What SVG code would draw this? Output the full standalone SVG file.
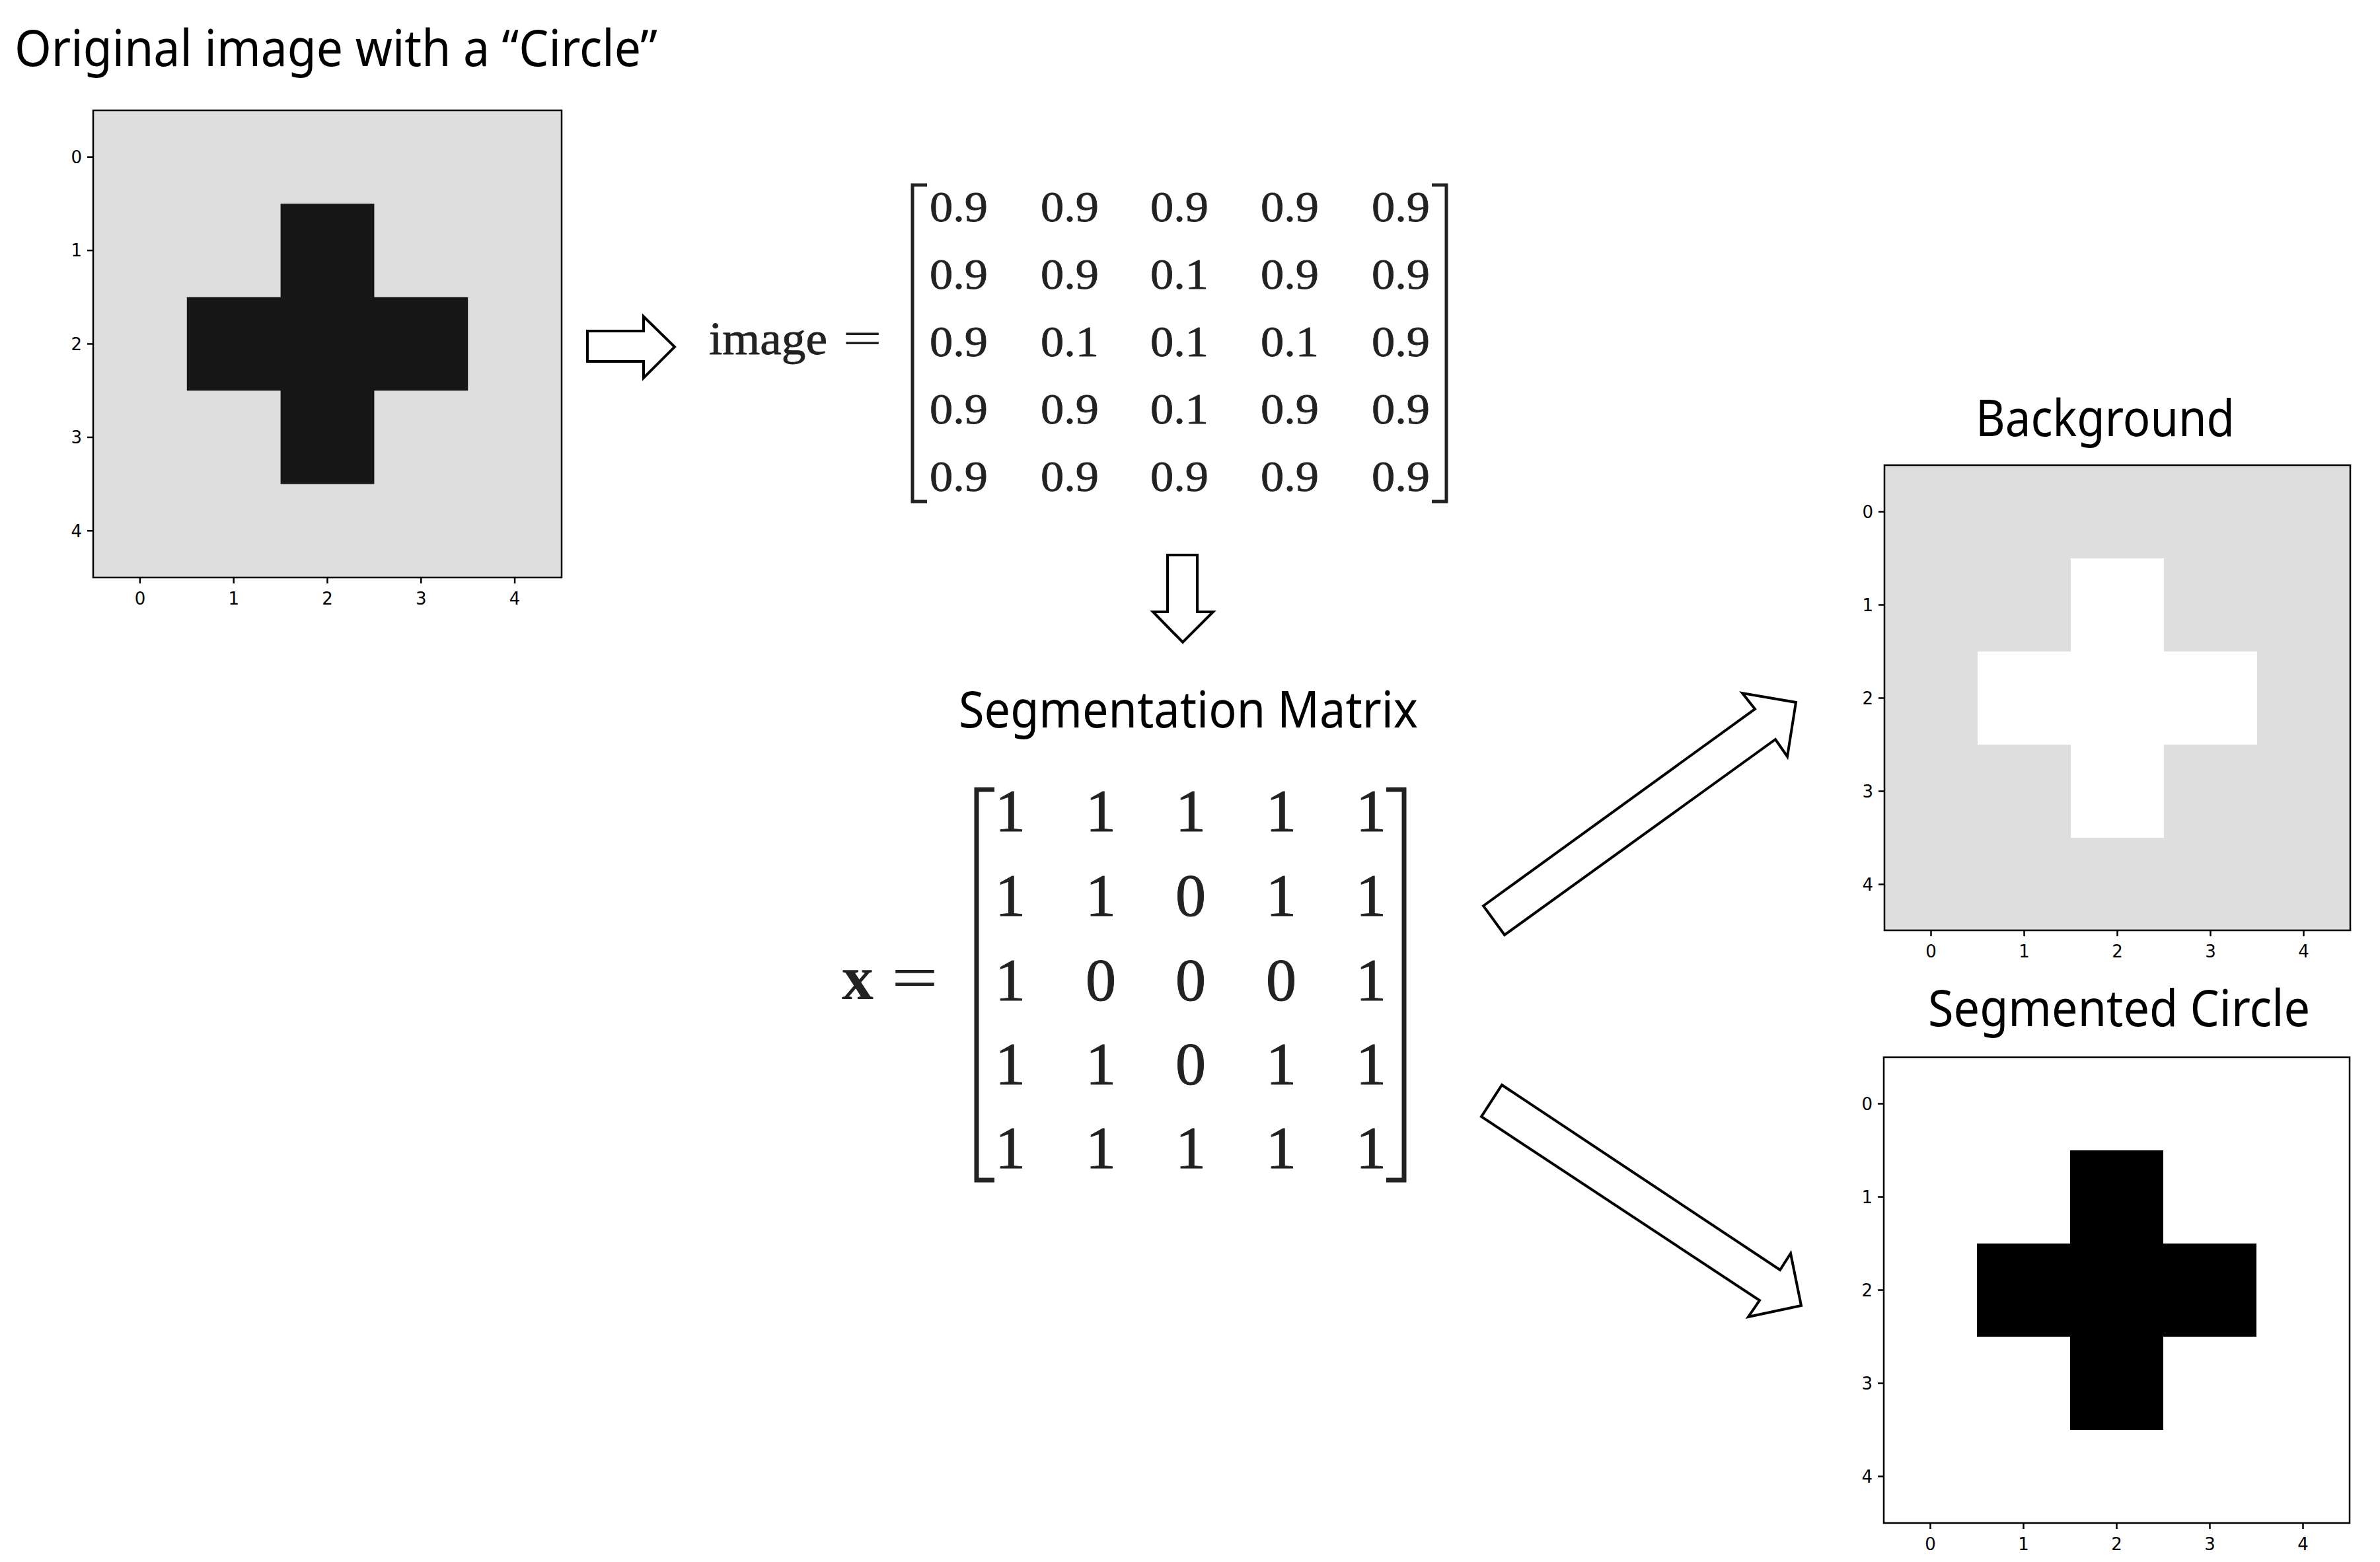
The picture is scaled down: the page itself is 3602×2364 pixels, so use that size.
<svg xmlns="http://www.w3.org/2000/svg" width="3602" height="2364" viewBox="0 0 3602 2364">
<style>
.ttl{font-family:"Noto Sans","Open Sans",sans-serif;font-size:76px;fill:#000}
.tk{font-family:"DejaVu Sans",sans-serif;font-size:26px;fill:#000}
.frame{fill:none;stroke:#000;stroke-width:2.5}
.tick{stroke:#000;stroke-width:2.5}
.m1{font-family:"Liberation Serif",serif;font-size:66px;fill:#222;stroke:#222;stroke-width:0.8;text-anchor:middle}
.m2{font-family:"Liberation Serif",serif;font-size:92px;fill:#222;stroke:#222;stroke-width:1;text-anchor:middle}
.brk{fill:none;stroke:#222;stroke-linejoin:miter;stroke-linecap:butt}
.arr{fill:#fff;stroke:#000;stroke-width:4;stroke-linejoin:miter}
</style>
<rect width="3602" height="2364" fill="#fff"/>

<g id="title-original">
<text class="ttl" x="22" y="100" textLength="973" lengthAdjust="spacingAndGlyphs">Original image with a “Circle”</text>
</g>

<g id="plot-original">
<rect x="141" y="167" width="709" height="707" fill="#dedede"/>
<rect x="424.6" y="308.4" width="141.8" height="424.2" fill="#161616"/>
<rect x="282.8" y="449.8" width="425.4" height="141.4" fill="#161616"/>
<rect class="frame" x="141" y="167" width="709" height="707"/>
<g class="tick">
<line x1="132" y1="237.7" x2="141" y2="237.7"/><line x1="132" y1="379.1" x2="141" y2="379.1"/><line x1="132" y1="520.5" x2="141" y2="520.5"/><line x1="132" y1="661.9" x2="141" y2="661.9"/><line x1="132" y1="803.3" x2="141" y2="803.3"/>
<line x1="211.9" y1="874" x2="211.9" y2="883"/><line x1="353.7" y1="874" x2="353.7" y2="883"/><line x1="495.5" y1="874" x2="495.5" y2="883"/><line x1="637.3" y1="874" x2="637.3" y2="883"/><line x1="779.1" y1="874" x2="779.1" y2="883"/>
</g>
<g class="tk" text-anchor="end">
<text x="124" y="247">0</text><text x="124" y="388.4">1</text><text x="124" y="529.8">2</text><text x="124" y="671.2">3</text><text x="124" y="812.6">4</text>
</g>
<g class="tk" text-anchor="middle">
<text x="211.9" y="915">0</text><text x="353.7" y="915">1</text><text x="495.5" y="915">2</text><text x="637.3" y="915">3</text><text x="779.1" y="915">4</text>
</g>
</g>

<g id="image-matrix">
<text x="1073" y="536" font-family="Liberation Serif,serif" font-size="70" fill="#222" stroke="#222" stroke-width="0.8" textLength="179" lengthAdjust="spacingAndGlyphs">image</text>
<text x="1275" y="536" font-family="Liberation Serif,serif" font-size="70" fill="#222" textLength="60" lengthAdjust="spacingAndGlyphs">=</text>
<path class="brk" stroke-width="5" d="M1403,280 H1381 V759 H1403 M2167,280 H2189 V759 H2167"/>
<g class="m1">
<text x="1451" y="335" textLength="88" lengthAdjust="spacingAndGlyphs">0.9</text><text x="1619" y="335" textLength="88" lengthAdjust="spacingAndGlyphs">0.9</text><text x="1785" y="335" textLength="88" lengthAdjust="spacingAndGlyphs">0.9</text><text x="1952" y="335" textLength="88" lengthAdjust="spacingAndGlyphs">0.9</text><text x="2120" y="335" textLength="88" lengthAdjust="spacingAndGlyphs">0.9</text>
<text x="1451" y="437" textLength="88" lengthAdjust="spacingAndGlyphs">0.9</text><text x="1619" y="437" textLength="88" lengthAdjust="spacingAndGlyphs">0.9</text><text x="1785" y="437" textLength="88" lengthAdjust="spacingAndGlyphs">0.1</text><text x="1952" y="437" textLength="88" lengthAdjust="spacingAndGlyphs">0.9</text><text x="2120" y="437" textLength="88" lengthAdjust="spacingAndGlyphs">0.9</text>
<text x="1451" y="539" textLength="88" lengthAdjust="spacingAndGlyphs">0.9</text><text x="1619" y="539" textLength="88" lengthAdjust="spacingAndGlyphs">0.1</text><text x="1785" y="539" textLength="88" lengthAdjust="spacingAndGlyphs">0.1</text><text x="1952" y="539" textLength="88" lengthAdjust="spacingAndGlyphs">0.1</text><text x="2120" y="539" textLength="88" lengthAdjust="spacingAndGlyphs">0.9</text>
<text x="1451" y="641" textLength="88" lengthAdjust="spacingAndGlyphs">0.9</text><text x="1619" y="641" textLength="88" lengthAdjust="spacingAndGlyphs">0.9</text><text x="1785" y="641" textLength="88" lengthAdjust="spacingAndGlyphs">0.1</text><text x="1952" y="641" textLength="88" lengthAdjust="spacingAndGlyphs">0.9</text><text x="2120" y="641" textLength="88" lengthAdjust="spacingAndGlyphs">0.9</text>
<text x="1451" y="743" textLength="88" lengthAdjust="spacingAndGlyphs">0.9</text><text x="1619" y="743" textLength="88" lengthAdjust="spacingAndGlyphs">0.9</text><text x="1785" y="743" textLength="88" lengthAdjust="spacingAndGlyphs">0.9</text><text x="1952" y="743" textLength="88" lengthAdjust="spacingAndGlyphs">0.9</text><text x="2120" y="743" textLength="88" lengthAdjust="spacingAndGlyphs">0.9</text>
</g>
</g>

<g id="segmentation-matrix">
<text class="ttl" x="1451" y="1101" textLength="695" lengthAdjust="spacingAndGlyphs">Segmentation Matrix</text>
<text x="1274" y="1512" font-family="Liberation Serif,serif" font-weight="bold" font-size="96" fill="#222">x</text>
<text x="1349" y="1512" font-family="Liberation Serif,serif" font-size="96" fill="#222" textLength="71" lengthAdjust="spacingAndGlyphs">=</text>
<path class="brk" stroke-width="7" d="M1505,1195 H1478 V1786 H1505 M2098,1195 H2125 V1786 H2098"/>
<g class="m2">
<text x="1529" y="1258">1</text><text x="1666" y="1258">1</text><text x="1802" y="1258">1</text><text x="1939" y="1258">1</text><text x="2075" y="1258">1</text>
<text x="1529" y="1386">1</text><text x="1666" y="1386">1</text><text x="1802" y="1386">0</text><text x="1939" y="1386">1</text><text x="2075" y="1386">1</text>
<text x="1529" y="1514">1</text><text x="1666" y="1514">0</text><text x="1802" y="1514">0</text><text x="1939" y="1514">0</text><text x="2075" y="1514">1</text>
<text x="1529" y="1641">1</text><text x="1666" y="1641">1</text><text x="1802" y="1641">0</text><text x="1939" y="1641">1</text><text x="2075" y="1641">1</text>
<text x="1529" y="1768">1</text><text x="1666" y="1768">1</text><text x="1802" y="1768">1</text><text x="1939" y="1768">1</text><text x="2075" y="1768">1</text>
</g>
</g>

<g id="plot-background">
<text class="ttl" x="2990" y="660" textLength="392" lengthAdjust="spacingAndGlyphs">Background</text>
<rect x="2852" y="704" width="705" height="704" fill="#dedede"/>
<rect x="3134" y="845" width="141" height="423" fill="#fff"/>
<rect x="2993" y="986" width="423" height="141" fill="#fff"/>
<rect class="frame" x="2852" y="704" width="705" height="704"/>
<g class="tick">
<line x1="2843" y1="774.5" x2="2852" y2="774.5"/><line x1="2843" y1="915.5" x2="2852" y2="915.5"/><line x1="2843" y1="1056.5" x2="2852" y2="1056.5"/><line x1="2843" y1="1197.5" x2="2852" y2="1197.5"/><line x1="2843" y1="1338.5" x2="2852" y2="1338.5"/>
<line x1="2922.5" y1="1408" x2="2922.5" y2="1417"/><line x1="3063.5" y1="1408" x2="3063.5" y2="1417"/><line x1="3204.5" y1="1408" x2="3204.5" y2="1417"/><line x1="3345.5" y1="1408" x2="3345.5" y2="1417"/><line x1="3486.5" y1="1408" x2="3486.5" y2="1417"/>
</g>
<g class="tk" text-anchor="end">
<text x="2835" y="784">0</text><text x="2835" y="925">1</text><text x="2835" y="1066">2</text><text x="2835" y="1207">3</text><text x="2835" y="1348">4</text>
</g>
<g class="tk" text-anchor="middle">
<text x="2922.5" y="1449">0</text><text x="3063.5" y="1449">1</text><text x="3204.5" y="1449">2</text><text x="3345.5" y="1449">3</text><text x="3486.5" y="1449">4</text>
</g>
</g>

<g id="plot-segmented">
<text class="ttl" x="2918" y="1553" textLength="578" lengthAdjust="spacingAndGlyphs">Segmented Circle</text>
<rect x="2851" y="1600" width="705" height="705" fill="#fff"/>
<rect x="3133" y="1741" width="141" height="423" fill="#000"/>
<rect x="2992" y="1882" width="423" height="141" fill="#000"/>
<rect class="frame" x="2851" y="1600" width="705" height="705"/>
<g class="tick">
<line x1="2842" y1="1670.5" x2="2851" y2="1670.5"/><line x1="2842" y1="1811.5" x2="2851" y2="1811.5"/><line x1="2842" y1="1952.5" x2="2851" y2="1952.5"/><line x1="2842" y1="2093.5" x2="2851" y2="2093.5"/><line x1="2842" y1="2234.5" x2="2851" y2="2234.5"/>
<line x1="2921.5" y1="2305" x2="2921.5" y2="2314"/><line x1="3062.5" y1="2305" x2="3062.5" y2="2314"/><line x1="3203.5" y1="2305" x2="3203.5" y2="2314"/><line x1="3344.5" y1="2305" x2="3344.5" y2="2314"/><line x1="3485.5" y1="2305" x2="3485.5" y2="2314"/>
</g>
<g class="tk" text-anchor="end">
<text x="2834" y="1680">0</text><text x="2834" y="1821">1</text><text x="2834" y="1962">2</text><text x="2834" y="2103">3</text><text x="2834" y="2244">4</text>
</g>
<g class="tk" text-anchor="middle">
<text x="2921.5" y="2346">0</text><text x="3062.5" y="2346">1</text><text x="3203.5" y="2346">2</text><text x="3344.5" y="2346">3</text><text x="3485.5" y="2346">4</text>
</g>
</g>

<g id="connectors">
<polygon class="arr" points="889,501 974,501 974,479 1021,525 974,572 974,547 889,547"/>
<polygon class="arr" points="1767,840 1812,840 1812,926 1836,926 1790,972 1745,926 1767,926"/>
<polygon class="arr" points="2245,1371 2656,1073 2637,1049 2718,1063 2705,1145 2687,1119 2277,1415"/>
<polygon class="arr" points="2273,1642 2694,1922 2710,1897 2726,1976 2646,1993 2663,1968 2242,1690"/>
</g>
</svg>
